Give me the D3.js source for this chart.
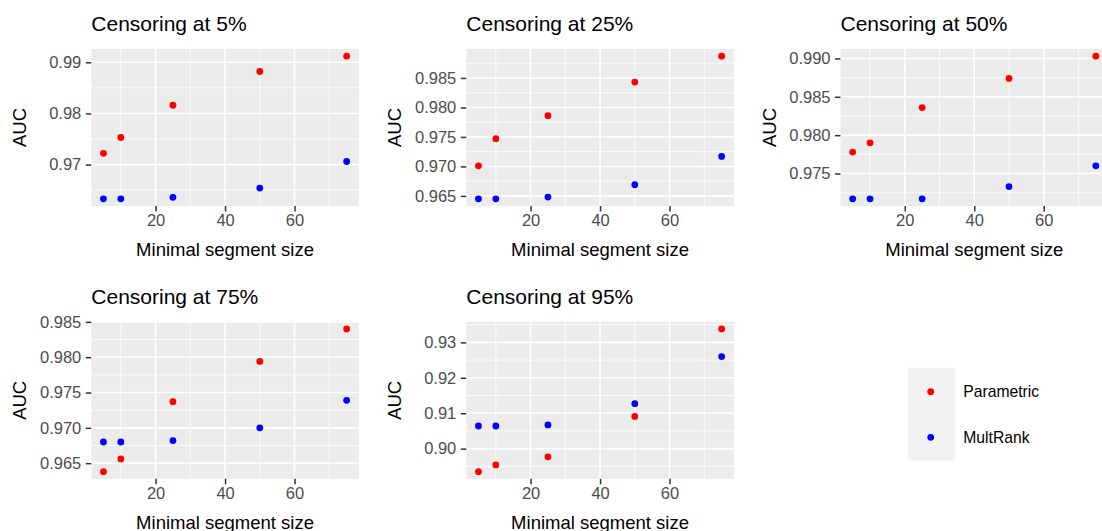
<!DOCTYPE html>
<html>
<head>
<meta charset="utf-8">
<script src="https://cdn.jsdelivr.net/npm/d3@7"></script>
<style>
  body { margin: 0; background: #fff; }
  svg { display: block; font-family: "Liberation Sans", Arial, Helvetica, sans-serif; }
</style>
</head>
<body>
<script>
// minimal segment sizes (x) shared by every panel
var segSizes = [5, 10, 25, 50, 75];

var censorLevels = ["5%", "25%", "50%", "75%", "95%"];

var parametric5  = [0.9722, 0.9753, 0.9816, 0.9882, 0.9912];
var multRank5    = [0.9633, 0.9633, 0.9636, 0.9654, 0.9706];
var parametric25 = [0.9701, 0.9747, 0.9786, 0.9843, 0.9887];
var multRank25   = [0.9645, 0.9645, 0.9648, 0.9669, 0.9717];
var parametric50 = [0.9778, 0.9790, 0.9836, 0.9874, 0.9903];
var multRank50   = [0.9717, 0.9717, 0.9717, 0.9733, 0.9760];
var parametric75 = [0.9638, 0.9656, 0.9737, 0.9794, 0.9840];
var multRank75   = [0.9680, 0.9680, 0.9682, 0.9700, 0.9739];
var parametric95 = [0.8935, 0.8954, 0.8977, 0.9091, 0.9338];
var multRank95   = [0.9064, 0.9064, 0.9067, 0.9127, 0.9260];

var xTickLabels = ["20", "40", "60"];
var yTickLabels5  = ["0.97", "0.98", "0.99"];
var yTickLabels25 = ["0.965", "0.970", "0.975", "0.980", "0.985"];
var yTickLabels50 = ["0.975", "0.980", "0.985", "0.990"];
var yTickLabels75 = ["0.965", "0.970", "0.975", "0.980", "0.985"];
var yTickLabels95 = ["0.90", "0.91", "0.92", "0.93"];

var seriesNames = ["Parametric", "MultRank"];
var seriesColours = ["#FF0000", "#0000FF"];

var panels = [
    {level: censorLevels[0], par: parametric5,  mr: multRank5,  ticks: yTickLabels5,  row: 0, col: 0},
    {level: censorLevels[1], par: parametric25, mr: multRank25, ticks: yTickLabels25, row: 0, col: 1},
    {level: censorLevels[2], par: parametric50, mr: multRank50, ticks: yTickLabels50, row: 0, col: 2},
    {level: censorLevels[3], par: parametric75, mr: multRank75, ticks: yTickLabels75, row: 1, col: 0},
    {level: censorLevels[4], par: parametric95, mr: multRank95, ticks: yTickLabels95, row: 1, col: 1}
];

var width = 1102,
    height = 531;
var colLeft = [91.3, 466.3, 840.5],
    rowTop = [49, 321.8],
    panelW = 267.5,
    panelH = 157;

var svg = d3.select("body").append("svg")
    .attr("width", width)
    .attr("height", height);

// ggplot style 5% expansion
function expand(ext) {
    var pad = (ext[1] - ext[0]) * 0.05;
    return [ext[0] - pad, ext[1] + pad];
}

function minorBreaks(major, domain) {
    var step = major[1] - major[0];
    var ext = [major[0] - step].concat(major, [major[major.length - 1] + step]);
    var out = [];
    for (var i = 0; i < ext.length - 1; i++) {
        var m = (ext[i] + ext[i + 1]) / 2;
        if (m > domain[0] && m < domain[1]) out.push(m);
    }
    return out;
}

panels.forEach(function(p) {
    var left = colLeft[p.col],
        top = rowTop[p.row];

    var x = d3.scaleLinear()
        .domain(expand(d3.extent(segSizes)))
        .range([left, left + panelW]);
    var y = d3.scaleLinear()
        .domain(expand(d3.extent(p.par.concat(p.mr))))
        .range([top + panelH, top]);

    var xMajor = xTickLabels.map(Number);
    var yMajor = p.ticks.map(Number);

    var g = svg.append("g");

    g.append("rect")
        .attr("x", left).attr("y", top)
        .attr("width", panelW).attr("height", panelH)
        .attr("fill", "#EBEBEB");

    // minor grid
    g.selectAll(".xminor").data(minorBreaks(xMajor, x.domain()))
        .enter().append("line")
        .attr("x1", function(d) { return x(d); })
        .attr("x2", function(d) { return x(d); })
        .attr("y1", top).attr("y2", top + panelH)
        .attr("stroke", "#fff").attr("stroke-width", 0.8);
    g.selectAll(".yminor").data(minorBreaks(yMajor, y.domain()))
        .enter().append("line")
        .attr("y1", function(d) { return y(d); })
        .attr("y2", function(d) { return y(d); })
        .attr("x1", left).attr("x2", left + panelW)
        .attr("stroke", "#fff").attr("stroke-width", 0.8);

    // major grid
    g.selectAll(".xmajor").data(xMajor)
        .enter().append("line")
        .attr("x1", function(d) { return x(d); })
        .attr("x2", function(d) { return x(d); })
        .attr("y1", top).attr("y2", top + panelH)
        .attr("stroke", "#fff").attr("stroke-width", 1.6);
    g.selectAll(".ymajor").data(yMajor)
        .enter().append("line")
        .attr("y1", function(d) { return y(d); })
        .attr("y2", function(d) { return y(d); })
        .attr("x1", left).attr("x2", left + panelW)
        .attr("stroke", "#fff").attr("stroke-width", 1.6);

    // axes
    var xAxis = g.append("g")
        .attr("transform", "translate(0," + (top + panelH) + ")")
        .call(d3.axisBottom(x).tickValues(xMajor)
            .tickFormat(function(d, i) { return xTickLabels[i]; })
            .tickSize(5.5).tickPadding(3));
    var yAxis = g.append("g")
        .attr("transform", "translate(" + left + ",0)")
        .call(d3.axisLeft(y).tickValues(yMajor)
            .tickFormat(function(d, i) { return p.ticks[i]; })
            .tickSize(5.5).tickPadding(4.5));
    [xAxis, yAxis].forEach(function(a) {
        a.select(".domain").remove();
        a.selectAll(".tick line").attr("stroke", "#333333").attr("stroke-width", 1.5);
        a.selectAll(".tick text")
            .attr("fill", "#4D4D4D")
            .style("font-size", "16.5px")
            .style("font-family", "Liberation Sans, Arial, sans-serif");
    });

    // points
    var pts = segSizes.map(function(s, i) {
        return [{x: s, y: p.par[i], c: seriesColours[0]}, {x: s, y: p.mr[i], c: seriesColours[1]}];
    });
    g.selectAll(".pt").data([].concat.apply([], pts))
        .enter().append("circle")
        .attr("cx", function(d) { return x(d.x); })
        .attr("cy", function(d) { return y(d.y); })
        .attr("r", 3.4)
        .attr("fill", function(d) { return d.c; });

    // titles
    g.append("text")
        .attr("x", left).attr("y", top - 18.3)
        .style("font-size", "21px")
        .attr("fill", "#000")
        .text("Censoring at " + p.level);

    g.append("text")
        .attr("x", left + panelW / 2).attr("y", top + panelH + 50)
        .attr("text-anchor", "middle")
        .style("font-size", "18.5px")
        .attr("fill", "#000")
        .text("Minimal segment size");

    g.append("text")
        .attr("transform", "translate(" + (left - 65) + "," + (top + panelH / 2) + ") rotate(-90)")
        .attr("text-anchor", "middle")
        .style("font-size", "18.5px")
        .attr("fill", "#000")
        .text("AUC");
});

// legend
var legend = svg.append("g");
legend.append("rect")
    .attr("x", 907.7).attr("y", 367.7)
    .attr("width", 47.3).attr("height", 93)
    .attr("fill", "#F2F2F2");
var legendY = d3.scalePoint().domain(seriesNames).range([391.7, 437.3]);
seriesNames.forEach(function(name, i) {
    legend.append("circle")
        .attr("cx", 930.7).attr("cy", legendY(name))
        .attr("r", 3.4)
        .attr("fill", seriesColours[i]);
    legend.append("text")
        .attr("x", 963.3).attr("y", legendY(name))
        .attr("dy", "0.35em")
        .style("font-size", "15.7px")
        .attr("fill", "#000")
        .text(name);
});
</script>
</body>
</html>
